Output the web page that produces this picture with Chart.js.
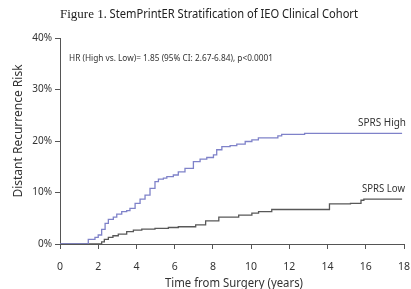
<!DOCTYPE html>
<html><head><meta charset="utf-8">
<script src="https://cdn.jsdelivr.net/npm/chart.js@4.4.1/dist/chart.umd.min.js"></script>
<style>html,body{margin:0;padding:0;background:#fff;}#wrap{width:411px;height:289px;}</style>
</head><body><div id="wrap"><canvas id="c" width="411" height="289"></canvas></div>
<script>
const xTicks = [0, 2, 4, 6, 8, 10, 12, 14, 16, 18];
const yTicks = [0, 10, 20, 30, 40];
const highTimes = [0, 1.22, 1.48, 1.83, 2.0, 2.18, 2.36, 2.53, 2.79, 2.97, 3.23, 3.49, 3.66, 3.93, 4.19, 4.45, 4.71, 4.97, 5.15, 5.41, 5.59, 5.93, 6.19, 6.54, 6.98, 7.33, 7.68, 8.03, 8.2, 8.47, 8.9, 9.25, 9.69, 10.04, 10.38, 11.4, 11.6, 12.8, 17.9];
const highRisk  = [0, 0,    0.9,  1.3,  1.75, 2.85, 4.0,  4.8,  5.2,  5.8,  6.3,  6.5,  6.9,  7.9,  8.7,  9.5,  10.8, 12.1, 12.6, 12.8, 13.1, 13.4, 14.0, 14.7, 16.0, 16.5, 16.8, 17.3, 18.3, 18.9, 19.1, 19.4, 19.9, 20.2, 20.6, 21.0, 21.3, 21.5, 21.5];
const lowTimes = [0, 2.1, 2.18, 2.32, 2.53, 2.77, 3.05, 3.49, 3.84, 4.28, 4.97, 5.67, 6.19, 7.1, 7.62, 8.31, 9.35, 10.04, 10.39, 11.08, 14.1, 15.2, 15.75, 15.9, 17.9];
const lowRisk  = [0, 0,   0.4,  0.9,  1.3,  1.6,  1.9,  2.4,  2.7,  2.9,  3.05, 3.2,  3.35, 3.7, 4.5,  5.2,  5.6,  6.0,   6.3,   6.7,   7.8,  7.9,  8.5,   8.7,  8.7];
const seriesNames = ['SPRS High', 'SPRS Low'];
const titleA = 'Figure 1';
const titleB = '. StemPrintER Stratification of IEO Clinical Cohort';
const hrText = 'HR (High vs. Low)= 1.85 (95% CI: 2.67-6.84), p<0.0001';
const xTitle = 'Time from Surgery (years)';
const yTitle = 'Distant Recurrence Risk';

const SANS = '"Noto Sans", "Open Sans", sans-serif';
const toPts = (t, v) => t.map((x, i) => ({x: x, y: v[i]}));

const textPlugin = {
  id: 'texts',
  afterDraw(chart) {
    const ctx = chart.ctx;
    ctx.save();
    ctx.fillStyle = '#222';
    ctx.textBaseline = 'middle';
    ctx.textAlign = 'left';
    ctx.font = '13px "Liberation Serif", serif';
    ctx.fillText(titleA, 60, 15);
    const wA = ctx.measureText(titleA).width;
    ctx.font = '12px ' + SANS;
    ctx.fillText(titleB, 60 + wA, 15, 358 - 60 - wA);
    ctx.fillStyle = '#333';
    ctx.font = '9px ' + SANS;
    ctx.fillText(hrText, 69, 58, 204);
    ctx.font = '11px ' + SANS;
    ctx.textAlign = 'right';
    ctx.fillText(seriesNames[0], 406, 123, 48);
    ctx.fillText(seriesNames[1], 405, 189, 43);
    ctx.textAlign = 'center';
    ctx.font = '12px ' + SANS;
    ctx.fillText(xTitle, 234, 284, 138);
    ctx.translate(19, 131);
    ctx.rotate(-Math.PI / 2);
    ctx.fillText(yTitle, 0, 0, 150);
    ctx.restore();
  }
};

new Chart(document.getElementById('c'), {
  type: 'line',
  data: {
    datasets: [
      {label: seriesNames[0], data: toPts(highTimes, highRisk), borderColor: '#7f82c9', borderWidth: 1.3, pointRadius: 0, stepped: true, fill: false},
      {label: seriesNames[1], data: toPts(lowTimes, lowRisk), borderColor: '#585858', borderWidth: 1.3, pointRadius: 0, stepped: true, fill: false}
    ]
  },
  options: {
    responsive: false,
    animation: false,
    events: [],
    layout: {padding: {left: 0, right: 7, top: 38, bottom: 0}},
    plugins: {legend: {display: false}, title: {display: false}, tooltip: {enabled: false}},
    scales: {
      x: {
        type: 'linear', min: 0, max: 18,
        afterBuildTicks: s => { s.ticks = xTicks.map(v => ({value: v})); },
        afterFit: s => { s.height = 45; s.paddingLeft = 0; s.paddingRight = 0; },
        border: {color: '#555', width: 1},
        grid: {display: true, drawOnChartArea: false, drawTicks: true, tickLength: 5, color: '#555'},
        ticks: {color: '#333', font: {family: SANS, size: 10.5}, padding: 12, maxRotation: 0, autoSkip: false}
      },
      y: {
        min: 0, max: 40,
        afterBuildTicks: s => { s.ticks = yTicks.map(v => ({value: v})); },
        afterFit: s => { s.width = 60; s.paddingTop = 0; s.paddingBottom = 0; },
        border: {color: '#555', width: 1},
        grid: {display: true, drawOnChartArea: false, drawTicks: true, tickLength: 5, color: '#555'},
        ticks: {color: '#333', font: {family: SANS, size: 10}, padding: 3, callback: v => v + '%'}
      }
    }
  },
  plugins: [textPlugin]
});
</script></body></html>
